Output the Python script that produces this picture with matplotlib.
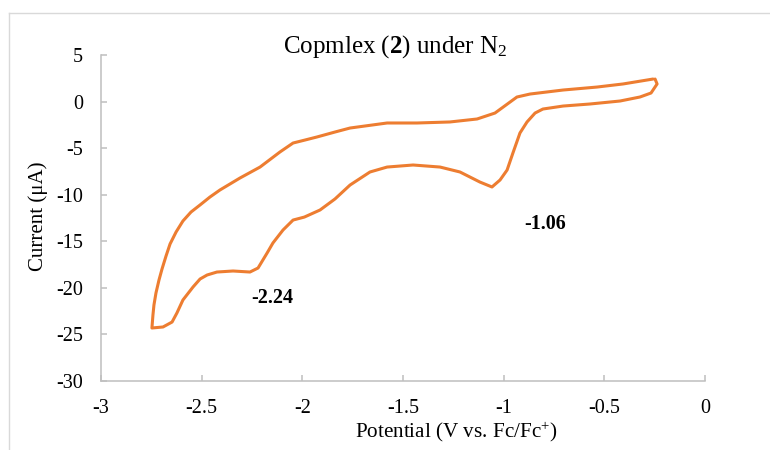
import matplotlib
matplotlib.use("Agg")
import matplotlib.pyplot as plt
from matplotlib.lines import Line2D

plt.rcParams["font.family"] = ["Liberation Serif", "DejaVu Serif"]
plt.rcParams["mathtext.fontset"] = "custom"
plt.rcParams["mathtext.rm"] = "Liberation Serif"
plt.rcParams["mathtext.bf"] = "Liberation Serif:bold"
plt.rcParams["mathtext.it"] = "Liberation Serif:italic"
plt.rcParams["axes.unicode_minus"] = False

# Cyclic voltammogram: cathodic sweep (-0.25 V -> -2.75 V) then anodic return
potential = [
    -0.248, -0.238, -0.268, -0.323, -0.422, -0.571, -0.705, -0.805, -0.844,
    -0.884, -0.919, -0.954, -0.983, -1.018, -1.058, -1.118, -1.217, -1.316,
    -1.450, -1.579, -1.664, -1.763, -1.838, -1.912, -1.990, -2.046, -2.096,
    -2.146, -2.175, -2.220, -2.260, -2.344, -2.424, -2.473, -2.508, -2.543,
    -2.593, -2.623, -2.647, -2.692, -2.747,
    -2.742, -2.737, -2.727, -2.712, -2.697, -2.677, -2.657, -2.627,
    -2.593, -2.553, -2.508, -2.459, -2.409, -2.310, -2.210, -2.111,
    -2.046, -1.987, -1.927, -1.838, -1.763, -1.579, -1.430, -1.267, -1.132,
    -1.043, -0.934, -0.869, -0.705, -0.536, -0.407, -0.258,
]
current = [
    2.42, 1.89, 0.92, 0.49, 0.06, -0.26, -0.48, -0.80, -1.23,
    -2.19, -3.37, -5.52, -7.35, -8.42, -9.17, -8.64, -7.56, -7.03,
    -6.81, -7.03, -7.56, -8.96, -10.46, -11.64, -12.40, -12.72, -13.79,
    -15.18, -16.26, -17.87, -18.30, -18.19, -18.30, -18.62, -19.05, -19.91,
    -21.30, -22.70, -23.67, -24.20, -24.31,
    -22.92, -21.84, -20.55, -19.16, -17.98, -16.58, -15.29, -14.00,
    -12.82, -11.86, -11.10, -10.25, -9.49, -8.21, -7.03, -5.41,
    -4.45, -4.13, -3.80, -3.27, -2.84, -2.30, -2.30, -2.19, -1.87,
    -1.23, 0.49, 0.81, 1.24, 1.56, 1.89, 2.42,
]

x_ticks = [-3, -2.5, -2, -1.5, -1, -0.5, 0]
x_tick_labels = ["-3", "-2.5", "-2", "-1.5", "-1", "-0.5", "0"]
y_ticks = [5, 0, -5, -10, -15, -20, -25, -30]
y_tick_labels = ["5", "0", "-5", "-10", "-15", "-20", "-25", "-30"]

peak_labels = ["-2.24", "-1.06"]
peak_label_pos = [(-2.15, -21.1), (-0.795, -13.15)]

W, H = 770, 450
fig = plt.figure(figsize=(W / 100, H / 100), dpi=100)
ax = fig.add_axes([101 / W, 1 - 381 / H, (705 - 101) / W, (381 - 55) / H])

ax.plot(potential, current, color="#ED7D31", lw=2.2,
        solid_joinstyle="round", solid_capstyle="round")

ax.set_xlim(-3, 0)
ax.set_ylim(-30, 5)
ax.set_xticks(x_ticks)
ax.set_xticklabels(x_tick_labels)
ax.set_yticks(y_ticks)
ax.set_yticklabels(y_tick_labels)

grey = "#BFBFBF"
for side in ("top", "right"):
    ax.spines[side].set_visible(False)
for side in ("left", "bottom"):
    ax.spines[side].set_color(grey)
    ax.spines[side].set_linewidth(1.1)
ax.tick_params(direction="in", length=4, width=1.1, color=grey,
               labelsize=14.5, labelcolor="black", pad=13)

for text, (px, py) in zip(peak_labels, peak_label_pos):
    ax.text(px, py, text, fontsize=14.5, fontweight="bold",
            ha="center", va="center")

fig.text(395 / W, 1 - 47 / H, r"Copmlex ($\mathbf{2}$) under N$_2$",
         fontsize=18, ha="center", va="center")
fig.text(38 / W, 1 - 216 / H, "Current (μA)", fontsize=15,
         rotation=90, ha="center", va="center")
fig.text(456 / W, 1 - 432 / H, "Potential (V vs. Fc/Fc$^{+}$)",
         fontsize=15.2, ha="center", va="center")

# chart-area frame
frame = "#D9D9D9"
fig.add_artist(Line2D([9 / W, 1], [1 - 13 / H, 1 - 13 / H],
                      transform=fig.transFigure, color=frame, lw=1.0))
fig.add_artist(Line2D([9 / W, 9 / W], [0, 1 - 13 / H],
                      transform=fig.transFigure, color=frame, lw=1.0))

fig.savefig("out.png", dpi=100, facecolor="white")
